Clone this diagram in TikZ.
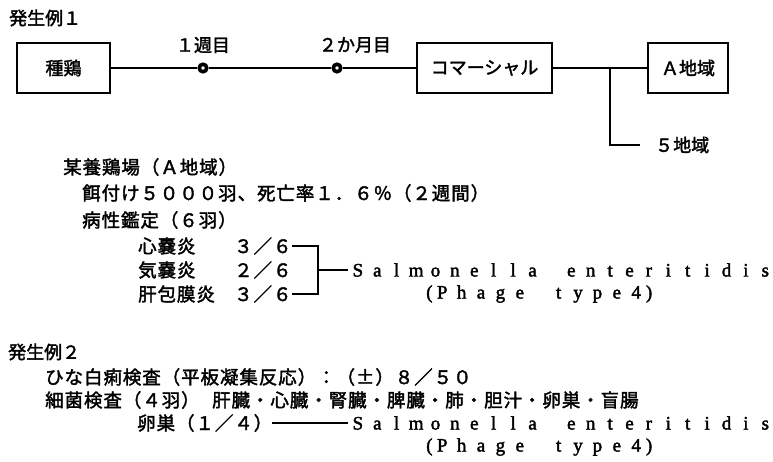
\documentclass[tikz,border=0pt]{standalone}
\usepackage{fontspec}
\newfontfamily\jp[FakeBold=2]{Noto Sans CJK JP}
\newfontfamily\jpw[FakeBold=2,LetterSpace=5]{Noto Sans CJK JP}
\newfontfamily\lat[FakeBold=2]{Liberation Serif}
\newlength\cellw
\setlength\cellw{19.4pt}
\makeatletter
\def\spaced#1{\sp@ced#1\relax}
\def\sp@ced#1{\ifx\relax#1\else\makebox[\cellw]{#1}\expandafter\sp@ced\fi}
\makeatother
\tikzset{
  jt/.style={font=\jpw\fontsize{18.5}{19}\selectfont, inner sep=0pt, anchor=west},
  jh/.style={font=\jp\fontsize{18}{19}\selectfont, inner sep=0pt},
  lt/.style={font=\lat\fontsize{19}{19}\selectfont, inner sep=0pt, anchor=west},
  boxn/.style={draw, line width=1.5pt, minimum height=50pt, inner sep=0pt, font=\jp\fontsize{18}{19}\selectfont},
  conn/.style={line width=1.4pt},
  dot/.style={circle, draw, fill=white, line width=3.6pt, minimum size=7.5pt, inner sep=0pt},
}
\begin{document}
\begin{tikzpicture}[x=1pt, y=-1pt]
\useasboundingbox (0,0) rectangle (773,462);
% ---- 発生例1 ----
\node[jh, anchor=west] (h1) at (9,18) {発生例１};
\node[boxn, minimum width=93pt] (seed) at (63.5,68) {種鶏};
\node[dot] (c1) at (203,68) {};
\node[dot] (c2) at (337,68) {};
\node[jh] (w1) at (203,45) {１週目};
\node[jh] (m2) at (355,45) {２か月目};
\node[boxn, minimum width=135pt] (com) at (484.5,68) {コマーシャル};
\node[boxn, minimum width=80pt] (areaA) at (688,68) {Ａ地域};
\coordinate (J) at (610,68);
\coordinate (J2) at (610,145);
\coordinate (J3) at (640,145);
\node[jh, anchor=west] (a5) at (655,145) {５地域};
\draw[conn] (seed.east) -- (c1.west);
\draw[conn] (c1.east) -- (c2.west);
\draw[conn] (c2.east) -- (com.west);
\draw[conn] (com.east) -- (areaA.west);
\draw[conn] (J) -- (J2) -- (J3);

\node[jt] (farm) at (63,167) {某養鶏場（Ａ地域）};
\node[jt] (feed) at (82,193) {餌付け５０００羽、死亡率１．６％（２週間）};
\node[jt] (path) at (82,220) {病性鑑定（６羽）};
\node[jt] (d1) at (138,246) {心嚢炎};
\node[jt] (d2) at (138,270) {気嚢炎};
\node[jt] (d3) at (138,294) {肝包膜炎};
\node[jt] (r1) at (234,246) {３／６};
\node[jt] (r2) at (234,270) {２／６};
\node[jt] (r3) at (234,294) {３／６};
\coordinate (b1) at (318,246);
\coordinate (b2) at (318,270);
\coordinate (b3) at (318,294);
\node[lt] (sal1) at (348,270) {\spaced{Salmonella}\hspace{\cellw}\spaced{enteritidis}};
\node[lt] (ph1) at (426,294) {(\spaced{Phage}\hspace{\cellw}\spaced{type4})};
\draw[conn] (r1.east) -- (b1) -- (b3) -- (r3.east);
\draw[conn] (b2) -- (sal1.west);

% ---- 発生例2 ----
\node[jh, anchor=west] (h2) at (8,352) {発生例２};
\node[jt] (hina) at (45,377) {ひな白痢検査（平板凝集反応）：（±）８／５０};
\node[jt] (bac) at (45,400) {細菌検査（４羽）};
\node[jt] (org) at (212,400) {肝臓・心臓・腎臓・脾臓・肺・胆汁・卵巣・盲腸};
\node[jt] (ov) at (137,423) {卵巣（１／４）};
\node[lt] (sal2) at (348,423) {\spaced{Salmonella}\hspace{\cellw}\spaced{enteritidis}};
\node[lt] (ph2) at (426,447) {(\spaced{Phage}\hspace{\cellw}\spaced{type4})};
\draw[conn] (ov.east) -- (sal2.west);
\end{tikzpicture}
\end{document}
